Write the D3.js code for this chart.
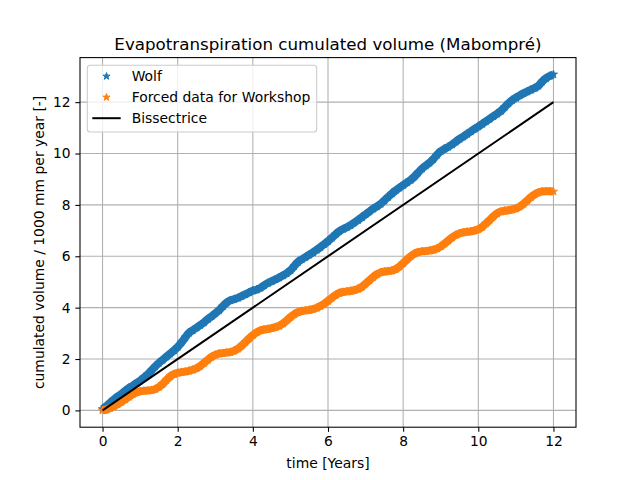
<!DOCTYPE html>
<html>
<head>
<meta charset="utf-8">
<script src="https://cdn.jsdelivr.net/npm/d3@7"></script>
<style>
  body { margin: 0; background: #fff; }
  svg { display: block; font-family: "DejaVu Sans", sans-serif; }
</style>
</head>
<body>
<svg id="chart" width="640" height="480"></svg>
<script>
// ---- Data ----
const years = d3.range(0, 121).map(i => +(i * 0.1).toFixed(1)); // time [Years]
const wolf = [
  0.05,0.17,0.30,0.42,0.54,0.64,0.76,0.87,0.96,1.06,
  1.16,1.28,1.40,1.55,1.71,1.85,1.97,2.09,2.21,2.33,
  2.47,2.64,2.84,3.02,3.12,3.22,3.32,3.43,3.55,3.66,
  3.78,3.90,4.05,4.19,4.28,4.33,4.38,4.45,4.52,4.59,
  4.66,4.70,4.77,4.87,4.96,5.03,5.10,5.17,5.25,5.34,
  5.45,5.62,5.78,5.88,5.97,6.06,6.15,6.25,6.36,6.47,
  6.59,6.72,6.85,6.97,7.06,7.13,7.21,7.31,7.41,7.52,
  7.63,7.74,7.85,7.94,8.04,8.17,8.31,8.44,8.56,8.67,
  8.77,8.87,8.97,9.10,9.26,9.41,9.53,9.64,9.78,9.95,
  10.09,10.18,10.26,10.35,10.46,10.57,10.66,10.76,10.86,10.96,
  11.05,11.15,11.25,11.35,11.45,11.55,11.66,11.80,11.95,12.08,
  12.17,12.26,12.34,12.41,12.48,12.55,12.64,12.80,12.93,13.02,
  13.08
];
const forced = [
  0.00,0.03,0.09,0.16,0.24,0.33,0.43,0.53,0.63,0.70,
  0.74,0.76,0.77,0.79,0.83,0.91,1.03,1.18,1.32,1.41,
  1.46,1.49,1.51,1.54,1.58,1.64,1.73,1.85,1.97,2.08,
  2.16,2.21,2.23,2.25,2.27,2.32,2.40,2.52,2.66,2.80,
  2.93,3.04,3.11,3.15,3.17,3.20,3.24,3.29,3.38,3.50,
  3.63,3.74,3.82,3.87,3.89,3.91,3.94,3.99,4.06,4.15,
  4.26,4.38,4.49,4.57,4.61,4.63,4.65,4.68,4.73,4.81,
  4.93,5.06,5.19,5.30,5.37,5.40,5.42,5.44,5.50,5.60,
  5.73,5.87,6.00,6.10,6.16,6.19,6.20,6.22,6.25,6.30,
  6.38,6.49,6.61,6.73,6.83,6.89,6.93,6.95,6.97,7.00,
  7.05,7.14,7.27,7.41,7.55,7.67,7.74,7.77,7.79,7.82,
  7.86,7.93,8.04,8.17,8.30,8.41,8.48,8.52,8.53,8.53,
  8.52
];
const bisX = [0, 12];
const bisY = [0, 12];
const xTicks = [0, 2, 4, 6, 8, 10, 12];
const yTicks = [0, 2, 4, 6, 8, 10, 12];
const seriesNames = ["Wolf", "Forced data for Workshop", "Bissectrice"];
const titleText = "Evapotranspiration cumulated volume (Mabompré)";
const xLabel = "time [Years]";
const yLabel = "cumulated volume / 1000 mm per year [-]";

// ---- Layout ----
const mL = 80, mR = 576, mT = 57.6, mB = 427.2;
const svg = d3.select("#chart");

const xMin = d3.min(years), xMax = d3.max(years);
const xPad = (xMax - xMin) * 0.05;
const allY = wolf.concat(forced, bisY);
const yMin = d3.min(allY), yMax = d3.max(allY);
const yPad = (yMax - yMin) * 0.05;

const x = d3.scaleLinear().domain([xMin - xPad, xMax + xPad]).range([mL, mR]);
const y = d3.scaleLinear().domain([yMin - yPad, yMax + yPad]).range([mB, mT]);

// grid
const grid = svg.append("g");
grid.selectAll("line.vx").data(xTicks).enter().append("line")
  .attr("x1", d => x(d)).attr("x2", d => x(d)).attr("y1", mT).attr("y2", mB)
  .attr("stroke", "#b0b0b0").attr("stroke-width", 1.07);
grid.selectAll("line.hy").data(yTicks).enter().append("line")
  .attr("x1", mL).attr("x2", mR).attr("y1", d => y(d)).attr("y2", d => y(d))
  .attr("stroke", "#b0b0b0").attr("stroke-width", 1.07);

svg.append("defs").append("clipPath").attr("id", "clip")
  .append("rect").attr("x", mL).attr("y", mT).attr("width", mR - mL).attr("height", mB - mT);
const plot = svg.append("g").attr("clip-path", "url(#clip)");

const star = d3.symbol().type(d3.symbolStar).size(20);
const colors = ["#1f77b4", "#ff7f0e"];
[wolf, forced].forEach((vals, k) => {
  const pts = years.map((t, i) => [t, vals[i]]);
  plot.append("path")
    .attr("d", d3.line().curve(d3.curveMonotoneX).x(d => x(d[0])).y(d => y(d[1]))(pts))
    .attr("fill", "none").attr("stroke", colors[k]).attr("stroke-width", 8)
    .attr("stroke-linejoin", "round").attr("stroke-linecap", "butt");
  plot.append("g").selectAll("path").data(pts).enter().append("path")
    .attr("d", star)
    .attr("transform", d => `translate(${x(d[0])},${y(d[1])})`)
    .attr("fill", colors[k]).attr("stroke", colors[k]).attr("stroke-width", 1);
});

plot.append("path")
  .attr("d", d3.line().x(d => x(d[0])).y(d => y(d[1]))(bisX.map((v, i) => [v, bisY[i]])))
  .attr("fill", "none").attr("stroke", "#000").attr("stroke-width", 2);

// axes
const xAxis = d3.axisBottom(x).tickValues(xTicks).tickSize(4.67).tickPadding(4.7).tickFormat(d3.format("d"));
const yAxis = d3.axisLeft(y).tickValues(yTicks).tickSize(4.67).tickPadding(4.7).tickFormat(d3.format("d"));
const gx = svg.append("g").attr("transform", `translate(0,${mB})`).call(xAxis);
const gy = svg.append("g").attr("transform", `translate(${mL},0)`).call(yAxis);
[gx, gy].forEach(g => {
  g.select(".domain").remove();
  g.selectAll(".tick line").attr("stroke", "#000").attr("stroke-width", 1.07);
  g.selectAll(".tick text").attr("font-size", "13.8px").attr("fill", "#000")
    .attr("font-family", "DejaVu Sans, sans-serif");
});

// spines
svg.append("rect").attr("x", mL).attr("y", mT).attr("width", mR - mL).attr("height", mB - mT)
  .attr("fill", "none").attr("stroke", "#000").attr("stroke-width", 1.07);

// title & labels
svg.append("text").attr("x", (mL + mR) / 2).attr("y", 49.5).attr("text-anchor", "middle")
  .attr("font-size", "16.7px").attr("fill", "#000").text(titleText);
svg.append("text").attr("x", (mL + mR) / 2).attr("y", 467.5).attr("text-anchor", "middle")
  .attr("font-size", "13.9px").attr("fill", "#000").text(xLabel);
svg.append("text").attr("transform", `translate(43.5,${(mT + mB) / 2}) rotate(-90)`)
  .attr("text-anchor", "middle").attr("font-size", "13.9px").attr("fill", "#000").text(yLabel);

// legend
const lg = svg.append("g");
lg.append("rect").attr("x", 87.3).attr("y", 65.3).attr("width", 229.4).attr("height", 66.7)
  .attr("rx", 3).attr("fill", "#fff").attr("fill-opacity", 0.8).attr("stroke", "#cccccc").attr("stroke-width", 1.07);
const rowY = [76.3, 97.3, 118.2];
seriesNames.forEach((name, i) => {
  if (i < 2) {
    lg.append("path").attr("d", d3.symbol().type(d3.symbolStar).size(16)).attr("transform", `translate(106.5,${rowY[i]})`)
      .attr("fill", colors[i]).attr("stroke", colors[i]).attr("stroke-width", 1);
  } else {
    lg.append("line").attr("x1", 92.3).attr("x2", 120.7).attr("y1", rowY[i]).attr("y2", rowY[i])
      .attr("stroke", "#000").attr("stroke-width", 2);
  }
  lg.append("text").attr("x", 131.7).attr("y", rowY[i] + 5).attr("font-size", "13.9px")
    .attr("fill", "#000").text(name);
});
</script>
</body>
</html>
